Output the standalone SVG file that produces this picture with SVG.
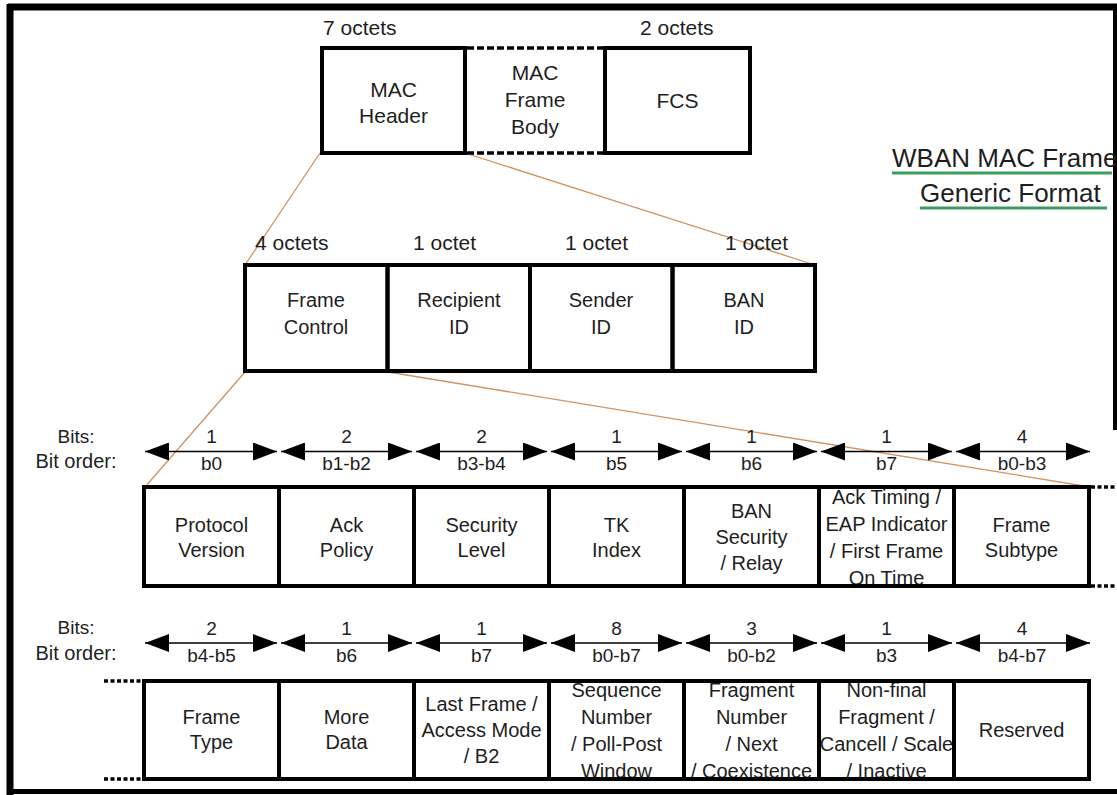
<svg xmlns="http://www.w3.org/2000/svg" width="1117" height="795" viewBox="0 0 1117 795">
<defs>
<style>
.t{font-family:"Liberation Sans",Arial,sans-serif;fill:#1e1e1e;text-anchor:middle;font-size:20px}
.lbl{font-family:"Liberation Sans",Arial,sans-serif;fill:#1e1e1e;font-size:21px}
.bit{font-family:"Liberation Sans",Arial,sans-serif;fill:#1e1e1e;text-anchor:middle;font-size:19px}
.box{fill:none;stroke:#000;stroke-width:4}
.conn{stroke:#d09262;stroke-width:1.3;fill:none}
.arr{stroke:#000;stroke-width:1.5;fill:none;marker-start:url(#ah);marker-end:url(#ah)}
.dots{stroke:#000;stroke-width:3.5;stroke-dasharray:4 2.5;fill:none}
.dash{stroke:#000;stroke-width:3.5;stroke-dasharray:7 3;fill:none}
.frame{stroke:#000;fill:none}
.ul{stroke:#3a9d5d;stroke-width:3}
</style>
<marker id="ah" markerUnits="userSpaceOnUse" markerWidth="24" markerHeight="18" refX="24" refY="9" orient="auto-start-reverse">
<path d="M0,0 L24,9 L0,18 z" fill="#000"/>
</marker>
</defs>
<rect width="1117" height="795" fill="#fff"/>

<!-- outer frame -->
<g id="frame">
<line class="frame" x1="8" y1="7" x2="1117" y2="7" stroke-width="7"/>
<line class="frame" x1="10" y1="4" x2="10" y2="795" stroke-width="7"/>
<line class="frame" x1="8" y1="791.5" x2="1117" y2="791.5" stroke-width="5"/>
<line class="frame" x1="1115" y1="4" x2="1115" y2="430" stroke-width="4"/>
</g>

<!-- title -->
<g id="title">
<text class="lbl" x="892" y="167" style="font-size:26px">WBAN MAC Frame</text>
<line class="ul" x1="892" y1="173" x2="1112" y2="173"/>
<text class="lbl" x="920" y="202" style="font-size:26px">Generic Format</text>
<line class="ul" x1="920" y1="208" x2="1107" y2="208"/>
</g>

<!-- connectors -->
<g id="connectors">
<line class="conn" x1="320" y1="153" x2="245" y2="265"/>
<line class="conn" x1="465" y1="153" x2="815" y2="265"/>
<line class="conn" x1="245" y1="372" x2="145" y2="487"/>
<line class="conn" x1="388" y1="372" x2="1090" y2="487"/>
</g>

<!-- octet labels -->
<g id="octet-labels">
<text class="lbl" x="323" y="35">7 octets</text>
<text class="lbl" x="640" y="35">2 octets</text>
<text class="lbl" x="255" y="250">4 octets</text>
<text class="lbl" x="413" y="250">1 octet</text>
<text class="lbl" x="565" y="250">1 octet</text>
<text class="lbl" x="725" y="250">1 octet</text>
</g>

<!-- top row -->
<g id="mac-header">
<text class="t" x="393.5" y="97" style="font-size:21px">MAC</text>
<text class="t" x="393.5" y="123" style="font-size:21px">Header</text>
<rect class="box" x="322" y="48" width="143" height="105"/>
</g>
<g id="mac-frame-body">
<text class="t" x="535" y="80" style="font-size:21px">MAC</text>
<text class="t" x="535" y="107" style="font-size:21px">Frame</text>
<text class="t" x="535" y="134" style="font-size:21px">Body</text>
<line class="dash" x1="467" y1="48" x2="603" y2="48"/>
<line class="dash" x1="467" y1="153" x2="603" y2="153"/>
</g>
<g id="fcs">
<text class="t" x="677.5" y="108" style="font-size:21px">FCS</text>
<rect class="box" x="605" y="48" width="145" height="105"/>
</g>

<!-- middle row -->
<g id="frame-control">
<text class="t" x="316" y="307">Frame</text>
<text class="t" x="316" y="334">Control</text>
<rect class="box" x="245" y="265" width="142.5" height="106"/>
</g>
<g id="recipient-id">
<text class="t" x="459" y="307">Recipient</text>
<text class="t" x="459" y="334">ID</text>
<rect class="box" x="387.5" y="265" width="142.5" height="106"/>
</g>
<g id="sender-id">
<text class="t" x="601" y="307">Sender</text>
<text class="t" x="601" y="334">ID</text>
<rect class="box" x="530" y="265" width="142.5" height="106"/>
</g>
<g id="ban-id">
<text class="t" x="744" y="307">BAN</text>
<text class="t" x="744" y="334">ID</text>
<rect class="box" x="672.5" y="265" width="142.5" height="106"/>
</g>

<!-- bit row 1 header -->
<g id="bits-row1">
<text class="bit" x="76" y="443">Bits:</text>
<text class="bit" x="76" y="468" style="font-size:20px">Bit order:</text>
<line class="arr" x1="145" y1="451.5" x2="277" y2="451.5"/>
<line class="arr" x1="281" y1="451.5" x2="412" y2="451.5"/>
<line class="arr" x1="416" y1="451.5" x2="547" y2="451.5"/>
<line class="arr" x1="551" y1="451.5" x2="682" y2="451.5"/>
<line class="arr" x1="686" y1="451.5" x2="817" y2="451.5"/>
<line class="arr" x1="821" y1="451.5" x2="952" y2="451.5"/>
<line class="arr" x1="956" y1="451.5" x2="1090" y2="451.5"/>
<text class="bit" x="211.5" y="443">1</text><text class="bit" x="211.5" y="470">b0</text>
<text class="bit" x="346.5" y="443">2</text><text class="bit" x="346.5" y="470">b1-b2</text>
<text class="bit" x="481.5" y="443">2</text><text class="bit" x="481.5" y="470">b3-b4</text>
<text class="bit" x="616.5" y="443">1</text><text class="bit" x="616.5" y="470">b5</text>
<text class="bit" x="751.5" y="443">1</text><text class="bit" x="751.5" y="470">b6</text>
<text class="bit" x="886.5" y="443">1</text><text class="bit" x="886.5" y="470">b7</text>
<text class="bit" x="1022" y="443">4</text><text class="bit" x="1022" y="470">b0-b3</text>
</g>

<!-- row 1 fields -->
<g id="protocol-version">
<text class="t" x="211.5" y="532">Protocol</text><text class="t" x="211.5" y="557">Version</text>
<rect class="box" x="144" y="487" width="135" height="99"/>
</g>
<g id="ack-policy">
<text class="t" x="346.5" y="532">Ack</text><text class="t" x="346.5" y="557">Policy</text>
<rect class="box" x="279" y="487" width="135" height="99"/>
</g>
<g id="security-level">
<text class="t" x="481.5" y="532">Security</text><text class="t" x="481.5" y="557">Level</text>
<rect class="box" x="414" y="487" width="135" height="99"/>
</g>
<g id="tk-index">
<text class="t" x="616.5" y="532">TK</text><text class="t" x="616.5" y="557">Index</text>
<rect class="box" x="549" y="487" width="135" height="99"/>
</g>
<g id="ban-security-relay">
<text class="t" x="751.5" y="518">BAN</text><text class="t" x="751.5" y="544">Security</text><text class="t" x="751.5" y="570">/ Relay</text>
<rect class="box" x="684" y="487" width="135" height="99"/>
</g>
<g id="ack-timing">
<text class="t" x="886.5" y="504">Ack Timing /</text><text class="t" x="886.5" y="531">EAP Indicator</text><text class="t" x="886.5" y="558">/ First Frame</text><text class="t" x="886.5" y="585">On Time</text>
<rect class="box" x="819" y="487" width="135" height="99"/>
</g>
<g id="frame-subtype">
<text class="t" x="1021.5" y="532">Frame</text><text class="t" x="1021.5" y="557">Subtype</text>
<rect class="box" x="954" y="487" width="135" height="99"/>
</g>
<g id="row1-continuation">
<line class="dots" x1="1091" y1="487" x2="1117" y2="487"/>
<line class="dots" x1="1091" y1="586" x2="1117" y2="586"/>
</g>

<!-- bit row 2 header -->
<g id="bits-row2">
<text class="bit" x="76" y="634">Bits:</text>
<text class="bit" x="76" y="660" style="font-size:20px">Bit order:</text>
<line class="arr" x1="145" y1="643" x2="277" y2="643"/>
<line class="arr" x1="281" y1="643" x2="412" y2="643"/>
<line class="arr" x1="416" y1="643" x2="547" y2="643"/>
<line class="arr" x1="551" y1="643" x2="682" y2="643"/>
<line class="arr" x1="686" y1="643" x2="817" y2="643"/>
<line class="arr" x1="821" y1="643" x2="952" y2="643"/>
<line class="arr" x1="956" y1="643" x2="1090" y2="643"/>
<text class="bit" x="211.5" y="634.5">2</text><text class="bit" x="211.5" y="661.5">b4-b5</text>
<text class="bit" x="346.5" y="634.5">1</text><text class="bit" x="346.5" y="661.5">b6</text>
<text class="bit" x="481.5" y="634.5">1</text><text class="bit" x="481.5" y="661.5">b7</text>
<text class="bit" x="616.5" y="634.5">8</text><text class="bit" x="616.5" y="661.5">b0-b7</text>
<text class="bit" x="751.5" y="634.5">3</text><text class="bit" x="751.5" y="661.5">b0-b2</text>
<text class="bit" x="886.5" y="634.5">1</text><text class="bit" x="886.5" y="661.5">b3</text>
<text class="bit" x="1022" y="634.5">4</text><text class="bit" x="1022" y="661.5">b4-b7</text>
</g>

<!-- row 2 fields -->
<g id="frame-type">
<text class="t" x="211.5" y="724">Frame</text><text class="t" x="211.5" y="749">Type</text>
<rect class="box" x="144" y="681" width="135" height="98"/>
</g>
<g id="more-data">
<text class="t" x="346.5" y="724">More</text><text class="t" x="346.5" y="749">Data</text>
<rect class="box" x="279" y="681" width="135" height="98"/>
</g>
<g id="last-frame">
<text class="t" x="481.5" y="711">Last Frame /</text><text class="t" x="481.5" y="737">Access Mode</text><text class="t" x="481.5" y="763">/ B2</text>
<rect class="box" x="414" y="681" width="135" height="98"/>
</g>
<g id="sequence-number">
<text class="t" x="616.5" y="697">Sequence</text><text class="t" x="616.5" y="724">Number</text><text class="t" x="616.5" y="751">/ Poll-Post</text><text class="t" x="616.5" y="778">Window</text>
<rect class="box" x="549" y="681" width="135" height="98"/>
</g>
<g id="fragment-number">
<text class="t" x="751.5" y="697">Fragment</text><text class="t" x="751.5" y="724">Number</text><text class="t" x="751.5" y="751">/ Next</text><text class="t" x="751.5" y="778">/ Coexistence</text>
<rect class="box" x="684" y="681" width="135" height="98"/>
</g>
<g id="non-final-fragment">
<text class="t" x="886.5" y="697">Non-final</text><text class="t" x="886.5" y="724">Fragment /</text><text class="t" x="886.5" y="751">Cancell / Scale</text><text class="t" x="886.5" y="778">/ Inactive</text>
<rect class="box" x="819" y="681" width="135" height="98"/>
</g>
<g id="reserved">
<text class="t" x="1021.5" y="737">Reserved</text>
<rect class="box" x="954" y="681" width="135" height="98"/>
</g>
<g id="row2-continuation">
<line class="dots" x1="104" y1="681" x2="143" y2="681"/>
<line class="dots" x1="104" y1="779" x2="143" y2="779"/>
</g>
</svg>
